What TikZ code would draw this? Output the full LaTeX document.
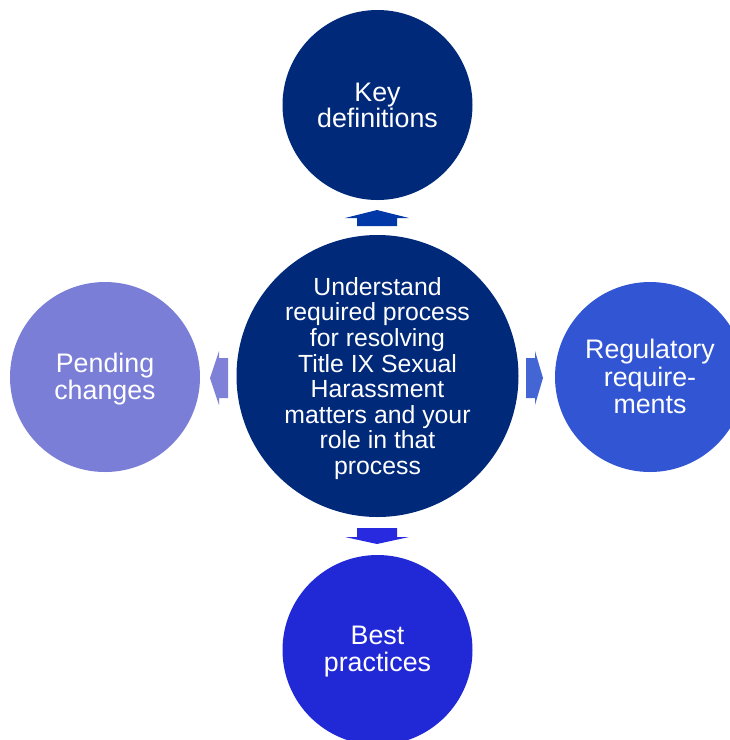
\documentclass[tikz,border=0pt]{standalone}
\usepackage{fontspec}
\setmainfont{Liberation Sans}
\definecolor{cdark}{RGB}{0,41,122}
\definecolor{cright}{RGB}{50,86,211}
\definecolor{cbottom}{RGB}{33,40,214}
\definecolor{cleft}{RGB}{122,126,214}
\definecolor{atop}{RGB}{0,56,168}
\definecolor{aright}{RGB}{68,102,213}
\definecolor{abottom}{RGB}{40,42,224}
\definecolor{aleft}{RGB}{127,128,216}
\begin{document}
\begin{tikzpicture}[x=1pt,y=-1pt,
  bubble/.style={circle,inner sep=0pt,text=white,align=center,
    font=\fontsize{26.8}{26.5}\selectfont},
  big/.style={bubble,minimum size=282pt,fill=cdark,font=\fontsize{24.8}{25.6}\selectfont},
  small/.style={bubble,minimum size=190pt}]
\useasboundingbox (0,0) rectangle (730,740);
\node[big] (c) at (377.5,376) {};
\node[align=center,text=white,inner sep=0pt,font=\fontsize{24.8}{25.6}\selectfont] (ct) at (377.5,378.5) {Understand\\required process\\for resolving\\Title IX Sexual\\Harassment\\matters and your\\role in that\\process};
\node[small,fill=cdark] (t) at (377.5,105) {};
\node[align=center,text=white,inner sep=0pt,font=\fontsize{26.8}{26.5}\selectfont] (tt) at (377.5,105.5) {Key\\definitions};
\node[small,fill=cright] (r) at (650,377) {};
\node[align=center,text=white,inner sep=0pt,font=\fontsize{26.8}{27.5}\selectfont] (rt) at (650,376.5) {Regulatory\\require-\\ments};
\node[small,fill=cbottom] (b) at (377.5,650) {};
\node[align=center,text=white,inner sep=0pt,font=\fontsize{26.8}{26.5}\selectfont] (bt) at (377.5,651.5) {Best\\practices};
\node[small,fill=cleft] (l) at (105,377) {};
\node[align=center,text=white,inner sep=0pt,font=\fontsize{26.8}{26.5}\selectfont] (lt) at (105,379) {Pending\\changes};
% block arrows
\fill[atop] (377,210) -- (409,218) -- (397,218) -- (397,226) -- (357,226) -- (357,218) -- (345,218) -- cycle;
\fill[abottom] (377,544) -- (409,537) -- (397,537) -- (397,528) -- (357,528) -- (357,537) -- (345,537) -- cycle;
\fill[aleft] (210,378) -- (219,351) -- (219,358) -- (228,358) -- (228,398) -- (219,398) -- (219,405) -- cycle;
\fill[aright] (543,378) -- (535,351) -- (535,358) -- (526,358) -- (526,398) -- (535,398) -- (535,405) -- cycle;
\end{tikzpicture}
\end{document}
